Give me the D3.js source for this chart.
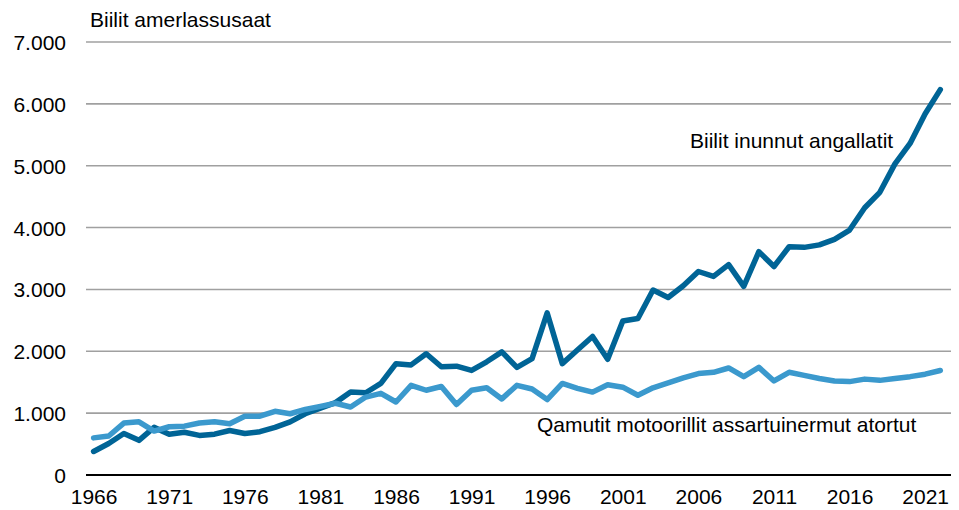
<!DOCTYPE html>
<html>
<head lang="en">
    <meta charset="UTF-8">
    <title></title>
    <script src="https://cdn.jsdelivr.net/npm/d3@7"></script>
    <style>
        body{margin:0;background:#fff;}
        text{font-family:Arial,"Liberation Sans",sans-serif;font-size:21px;fill:#000;}
        .grid line{stroke:#a0a0a0;stroke-width:1.6px;}
        .line{fill:none;stroke-width:5.5px;stroke-linejoin:round;stroke-linecap:round;}
    </style>
</head>
<body>
<script>
    var years=d3.range(1966,2023);
    // Biilit inunnut angallatit
    var inunnut=[380,510,670,560,770,660,690,640,660,720,
        670,700,770,860,990,1080,1170,1340,1330,1480,
        1800,1780,1960,1750,1760,1690,1830,1990,1740,1880,
        2620,1800,2020,2240,1870,2490,2530,2990,2870,3060,
        3290,3210,3400,3050,3610,3370,3690,3680,3720,3810,
        3960,4320,4570,5030,5360,5840,6230];
    // Qamutit motoorillit assartuinermut atortut
    var qamutit=[600,630,840,860,710,780,790,840,860,830,
        950,950,1030,990,1060,1110,1160,1100,1260,1320,
        1180,1450,1370,1430,1140,1370,1410,1230,1450,1390,
        1220,1480,1400,1340,1460,1420,1290,1410,1490,1570,
        1640,1660,1730,1590,1740,1520,1660,1610,1560,1520,
        1510,1550,1530,1560,1590,1630,1690];
    var yTicks=[0,1000,2000,3000,4000,5000,6000,7000];
    var xLabels=d3.range(1966,2023,5);

    var width=959,height=510;
    var left=86,right=951;

    var x=d3.scalePoint().domain(years).range([93.6,940.3]);
    var y=d3.scaleLinear().domain([0,7000]).range([475,42]);
    var fmt=function(d){return d3.format(",")(d).replace(/,/g,".");};

    var svg=d3.select("body").append("svg")
            .attr("width",width)
            .attr("height",height);

    //网格线
    svg.append("g").attr("class","grid")
            .selectAll("line")
            .data(yTicks.filter(function(d){return d>0;}))
            .enter().append("line")
            .attr("x1",left).attr("x2",right)
            .attr("y1",function(d){return y(d);})
            .attr("y2",function(d){return y(d);});

    //y轴
    var yAxis=svg.append("g")
            .attr("transform","translate(66,0)")
            .call(d3.axisLeft(y).tickValues(yTicks).tickFormat(fmt).tickSize(0).tickPadding(0));
    yAxis.select(".domain").remove();
    yAxis.selectAll("text").attr("font-size",null).attr("font-family",null).attr("dy","0.36em");

    //x轴
    var xAxis=svg.append("g")
            .attr("transform","translate(0,475)")
            .call(d3.axisBottom(x).tickValues(xLabels).tickSize(0).tickPadding(0));
    xAxis.select(".domain").remove();
    xAxis.selectAll("text").attr("font-size",null).attr("font-family",null).attr("y",29).attr("dy",null);

    svg.append("line")
            .attr("x1",left).attr("x2",right)
            .attr("y1",y(0)).attr("y2",y(0))
            .attr("stroke","#000").attr("stroke-width",2);

    var line=d3.line()
            .x(function(d,i){return x(years[i]);})
            .y(function(d){return y(d);});

    svg.append("path").attr("class","line")
            .attr("d",line(inunnut))
            .attr("stroke","#006496");
    svg.append("path").attr("class","line")
            .attr("d",line(qamutit))
            .attr("stroke","#3b99cd");

    svg.append("text").attr("x",90).attr("y",27).text("Biilit amerlassusaat");
    svg.append("text").attr("x",690).attr("y",148).text("Biilit inunnut angallatit");
    svg.append("text").attr("x",537).attr("y",432).text("Qamutit motoorillit assartuinermut atortut");
</script>
</body>
</html>
